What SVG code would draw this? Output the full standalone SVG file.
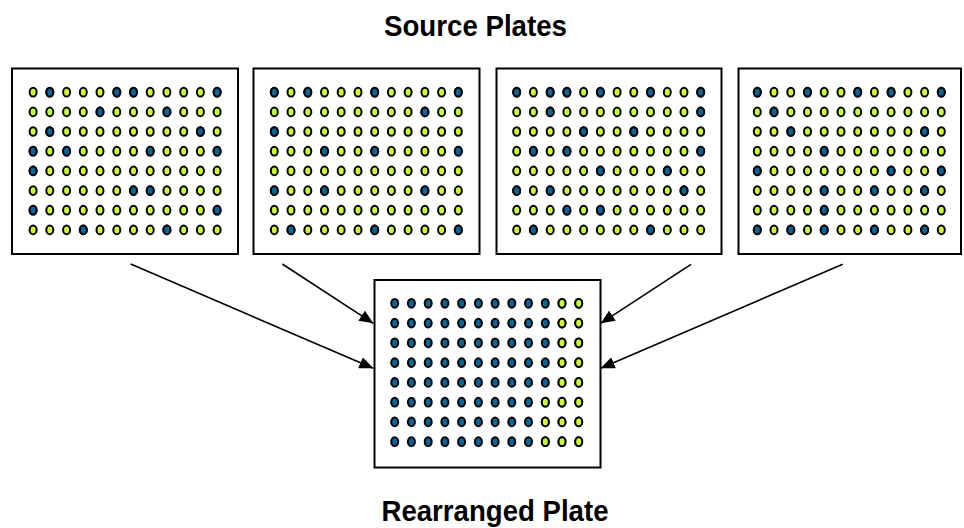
<svg xmlns="http://www.w3.org/2000/svg" xmlns:xlink="http://www.w3.org/1999/xlink" width="964" height="528" viewBox="0 0 964 528">
<style>
.plate{fill:#fff;stroke:#000;stroke-width:2}
.y{fill:#ccff33;stroke:#000;stroke-width:2}
.b{fill:#006699;stroke:#000;stroke-width:2}
.lbl{font-family:"Liberation Sans",Arial,sans-serif;font-weight:bold;fill:#000;text-anchor:middle}
.arrow{stroke:#000;stroke-width:1.6;fill:none;marker-end:url(#ah)}
</style>
<defs>
<marker id="ah" markerUnits="userSpaceOnUse" markerWidth="14" markerHeight="12" viewBox="0 0 14 12" refX="14" refY="6" orient="auto"><path d="M0,0 L14,6 L0,12 z" fill="#000"/></marker>
<ellipse id="dY" class="y" rx="3.5" ry="4.35"/>
<ellipse id="dB" class="b" rx="3.5" ry="4.35"/>
<g id="rowY"><use href="#dY"/><use href="#dY" x="16.7"/><use href="#dY" x="33.5"/><use href="#dY" x="50.2"/><use href="#dY" x="66.9"/><use href="#dY" x="83.7"/><use href="#dY" x="100.4"/><use href="#dY" x="117.1"/><use href="#dY" x="133.8"/><use href="#dY" x="150.6"/><use href="#dY" x="167.3"/><use href="#dY" x="184"/></g>
<g id="gridY"><use href="#rowY"/><use href="#rowY" y="19.7"/><use href="#rowY" y="39.3"/><use href="#rowY" y="59"/><use href="#rowY" y="78.7"/><use href="#rowY" y="98.4"/><use href="#rowY" y="118"/><use href="#rowY" y="137.7"/></g>
<g id="rowB"><use href="#dB"/><use href="#dB" x="16.7"/><use href="#dB" x="33.5"/><use href="#dB" x="50.2"/><use href="#dB" x="66.9"/><use href="#dB" x="83.7"/><use href="#dB" x="100.4"/><use href="#dB" x="117.1"/><use href="#dB" x="133.8"/><use href="#dB" x="150.6"/><use href="#dB" x="167.3"/><use href="#dB" x="184"/></g>
</defs>
<rect width="964" height="528" fill="#fff"/>
<text class="lbl" x="475.5" y="36" font-size="29" textLength="183" lengthAdjust="spacingAndGlyphs">Source Plates</text>
<text class="lbl" x="495" y="520.5" font-size="30" textLength="227" lengthAdjust="spacingAndGlyphs">Rearranged Plate</text>

<g id="plate1">
<rect class="plate" x="12" y="68.5" width="226" height="185.5"/>
<g transform="translate(33.1,92.2)">
<use href="#gridY"/>
<use href="#dB" x="16.7"/><use href="#dB" x="83.7"/><use href="#dB" x="100.4"/><use href="#dB" x="184"/>
<use href="#dB" x="66.9" y="19.7"/><use href="#dB" x="133.8" y="19.7"/>
<use href="#dB" x="16.7" y="39.3"/><use href="#dB" x="167.3" y="39.3"/>
<use href="#dB" y="59"/><use href="#dB" x="33.5" y="59"/><use href="#dB" x="117.1" y="59"/><use href="#dB" x="184" y="59"/>
<use href="#dB" y="78.7"/>
<use href="#dB" x="100.4" y="98.4"/><use href="#dB" x="117.1" y="98.4"/>
<use href="#dB" y="118"/><use href="#dB" x="184" y="118"/>
<use href="#dB" x="50.2" y="137.7"/><use href="#dB" x="133.8" y="137.7"/>
</g>
</g>

<g id="plate2">
<rect class="plate" x="253.5" y="68.5" width="226" height="185.5"/>
<g transform="translate(274.3,92.2)">
<use href="#gridY"/>
<use href="#dB"/><use href="#dB" x="33.5"/><use href="#dB" x="100.4"/><use href="#dB" x="184"/>
<use href="#dB" x="150.6" y="19.7"/>
<use href="#dB" y="39.3"/>
<use href="#dB" x="50.2" y="59"/><use href="#dB" x="100.4" y="59"/><use href="#dB" x="184" y="59"/>
<use href="#dB" y="98.4"/><use href="#dB" x="50.2" y="98.4"/><use href="#dB" x="150.6" y="98.4"/>
<use href="#dB" x="16.7" y="137.7"/><use href="#dB" x="100.4" y="137.7"/><use href="#dB" x="184" y="137.7"/>
</g>
</g>

<g id="plate3">
<rect class="plate" x="496.5" y="68.5" width="225" height="185.5"/>
<g transform="translate(516.7,92.2)">
<use href="#gridY"/>
<use href="#dB"/><use href="#dB" x="33.5"/><use href="#dB" x="50.2"/><use href="#dB" x="83.7"/><use href="#dB" x="133.8"/><use href="#dB" x="184"/>
<use href="#dB" x="33.5" y="19.7"/><use href="#dB" x="184" y="19.7"/>
<use href="#dB" x="66.9" y="39.3"/><use href="#dB" x="117.1" y="39.3"/>
<use href="#dB" x="16.7" y="59"/><use href="#dB" x="50.2" y="59"/><use href="#dB" x="184" y="59"/>
<use href="#dB" x="83.7" y="78.7"/><use href="#dB" x="150.6" y="78.7"/>
<use href="#dB" y="98.4"/><use href="#dB" x="33.5" y="98.4"/><use href="#dB" x="167.3" y="98.4"/>
<use href="#dB" x="50.2" y="118"/><use href="#dB" x="83.7" y="118"/>
<use href="#dB" x="16.7" y="137.7"/><use href="#dB" x="133.8" y="137.7"/>
</g>
</g>

<g id="plate4">
<rect class="plate" x="738.5" y="68.5" width="222.5" height="185.5"/>
<g transform="translate(757.3,92.2)">
<use href="#gridY"/>
<use href="#dB"/><use href="#dB" x="50.2"/><use href="#dB" x="100.4"/><use href="#dB" x="133.8"/><use href="#dB" x="184"/>
<use href="#dB" x="16.7" y="19.7"/>
<use href="#dB" x="33.5" y="39.3"/><use href="#dB" x="167.3" y="39.3"/>
<use href="#dB" x="66.9" y="59"/>
<use href="#dB" y="78.7"/><use href="#dB" x="133.8" y="78.7"/><use href="#dB" x="184" y="78.7"/>
<use href="#dB" x="66.9" y="98.4"/><use href="#dB" x="117.1" y="98.4"/><use href="#dB" x="167.3" y="98.4"/>
<use href="#dB" x="66.9" y="118"/>
<use href="#dB" y="137.7"/><use href="#dB" x="33.5" y="137.7"/><use href="#dB" x="66.9" y="137.7"/><use href="#dB" x="117.1" y="137.7"/><use href="#dB" x="167.3" y="137.7"/>
</g>
</g>

<g id="rearranged">
<rect class="plate" x="374.5" y="280" width="226" height="187.5"/>
<g transform="translate(394.7,303.3)">
<use href="#rowB"/><use href="#rowB" y="19.8"/><use href="#rowB" y="39.5"/><use href="#rowB" y="59.3"/><use href="#rowB" y="79.1"/><use href="#rowB" y="98.9"/><use href="#rowB" y="118.6"/><use href="#rowB" y="138.4"/>
<use href="#dY" x="167.3"/><use href="#dY" x="184"/>
<use href="#dY" x="167.3" y="19.8"/><use href="#dY" x="184" y="19.8"/>
<use href="#dY" x="167.3" y="39.5"/><use href="#dY" x="184" y="39.5"/>
<use href="#dY" x="167.3" y="59.3"/><use href="#dY" x="184" y="59.3"/>
<use href="#dY" x="167.3" y="79.1"/><use href="#dY" x="184" y="79.1"/>
<use href="#dY" x="150.6" y="98.9"/><use href="#dY" x="167.3" y="98.9"/><use href="#dY" x="184" y="98.9"/>
<use href="#dY" x="150.6" y="118.6"/><use href="#dY" x="167.3" y="118.6"/><use href="#dY" x="184" y="118.6"/>
<use href="#dY" x="150.6" y="138.4"/><use href="#dY" x="167.3" y="138.4"/><use href="#dY" x="184" y="138.4"/>
</g>
</g>

<g id="connectors">
<line class="arrow" x1="130.7" y1="264" x2="373.3" y2="368.3"/>
<line class="arrow" x1="282.3" y1="264" x2="373.3" y2="323.3"/>
<line class="arrow" x1="691" y1="264.3" x2="600.7" y2="323.3"/>
<line class="arrow" x1="842.7" y1="264.3" x2="600.7" y2="368.3"/>
</g>
</svg>
